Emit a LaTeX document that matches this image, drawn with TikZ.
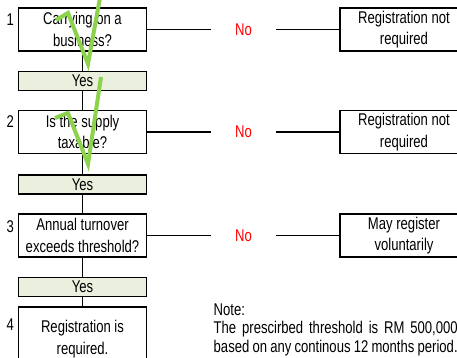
\documentclass[tikz,border=0pt]{standalone}
\usepackage{fontspec}
\setmainfont{Liberation Sans}[FakeStretch=0.77]
\usetikzlibrary{positioning}
\definecolor{yesfill}{HTML}{EBF0DE}
\definecolor{tickgreen}{HTML}{8CD24C}

\begin{document}
\begin{tikzpicture}[x=1pt,y=-1pt,line width=1.4pt,font=\fontsize{17}{21.5}\selectfont]

    \tikzstyle{question}=[draw=black,line width=1.6pt,fill=white,minimum width=128pt,minimum height=43pt,inner sep=0pt,align=center]
    \tikzstyle{yesbox}=[draw=black,line width=1.6pt,fill=yesfill,minimum width=128pt,minimum height=19pt,inner sep=0pt]
    \tikzstyle{nolabel}=[text=red,minimum width=64pt,inner sep=0pt]
    \tikzstyle{num}=[anchor=east,inner sep=0pt]
    \tikzstyle{tick}=[draw=tickgreen,line width=4pt,line join=miter]

    \useasboundingbox (0,0) rectangle (457,357);
    \clip (0,0) rectangle (457,357);

    % left column
    \node[question] (q1) at (82.5,29.5) {Carrying on a\\business?};
    \node[yesbox]   (y1) at (82.5,81)   {Yes};
    \node[question] (q2) at (82.5,132)  {Is the supply\\taxable?};
    \node[yesbox]   (y2) at (82.5,184.5) {Yes};
    \node[question] (q3) at (82.5,235.5) {Annual turnover\\exceeds threshold?};
    \node[yesbox]   (y3) at (82.5,287)  {Yes};
    \node[question,minimum height=64pt] (q4) at (82.5,339) {Registration is\\required.};

    \node[num] (n1) at ([xshift=-3pt,yshift=-12pt]q1.north west) {1};
    \node[num] (n2) at ([xshift=-3pt,yshift=-12pt]q2.north west) {2};
    \node[num] (n3) at ([xshift=-3pt,yshift=-13pt]q3.north west) {3};
    \node[num] (n4) at ([xshift=-3pt,yshift=-18pt]q4.north west) {4};

    % no branches
    \node[nolabel] (no1) [right=63.5pt of q1] {No};
    \node[nolabel] (no2) [right=63.5pt of q2] {No};
    \node[nolabel] (no3) [right=63.5pt of q3] {No};
    \node[question] (r1) [right=63pt of no1] {Registration not\\required};
    \node[question] (r2) [right=63pt of no2] {Registration not\\required};
    \node[question] (r3) [right=63pt of no3] {May register\\voluntarily};

    \draw (q1) -- (y1) -- (q2) -- (y2) -- (q3) -- (y3) -- (q4);
    \draw (q1) -- (no1) -- (r1);
    \draw (q2) -- (no2) -- (r2);
    \draw (q3) -- (no3) -- (r3);

    \node[anchor=north west,text width=244pt,align=justify,inner sep=0pt,
          font=\fontsize{17}{18.5}\selectfont] (note) at (213,303)
        {Note:\\The prescirbed threshold is RM 500,000\linebreak based on any continous 12 months period.};

    % ticks
    \draw[tick] (56,20) -- (68,13) -- (88,64) -- (101,-8);
    \draw[tick] (55,118) -- (68,113) -- (88,164) -- (101,77);
\end{tikzpicture}
\end{document}
